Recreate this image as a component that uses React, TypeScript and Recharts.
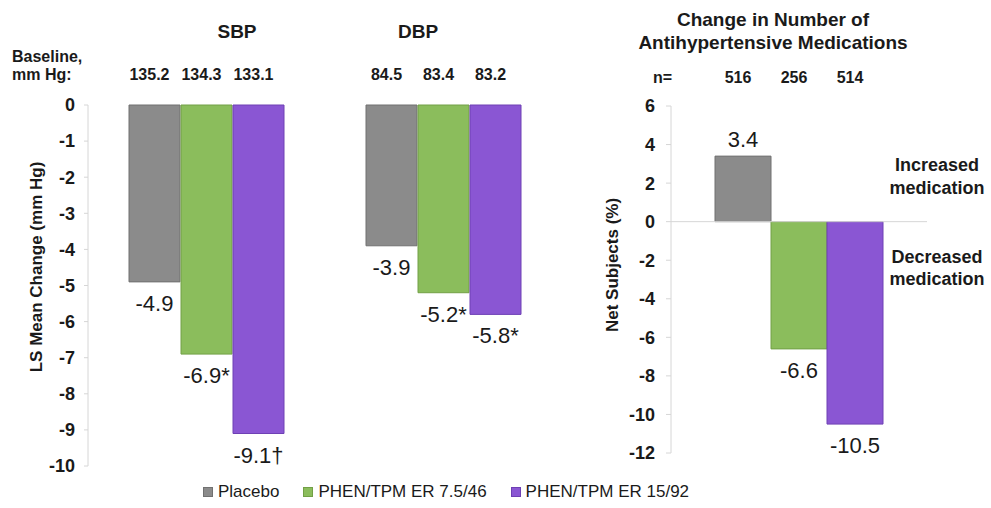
import { BarChart, Bar, XAxis, YAxis, LabelList, Legend, ReferenceLine } from "recharts";

const categories = ["SBP", "DBP"];
const placeboChange = [-4.9, -3.9];
const phen75Change = [-6.9, -5.2];
const phen15Change = [-9.1, -5.8];
const placeboMark = ["", ""];
const phen75Mark = ["*", "*"];
const phen15Mark = ["†", "*"];
const placeboBaseline = ["135.2", "84.5"];
const phen75Baseline = ["134.3", "83.4"];
const phen15Baseline = ["133.1", "83.2"];
const bpTicks = [0, -1, -2, -3, -4, -5, -6, -7, -8, -9, -10];

const medCategory = ["Antihypertensive"];
const medPlacebo = [3.4];
const medPhen75 = [-6.6];
const medPhen15 = [-10.5];
const medN = [["516"], ["256"], ["514"]];
const medTicks = [6, 4, 2, 0, -2, -4, -6, -8, -10, -12];

const seriesNames = ["Placebo", "PHEN/TPM ER 7.5/46", "PHEN/TPM ER 15/92"];
const seriesColors = ["#8b8b8b", "#8bbd5c", "#8a56d3"];
const seriesEdges = ["#717171", "#72a046", "#6e40b4"];

const FONT = "'Liberation Sans', Arial, sans-serif";
const INK = "#1a1a1a";
const AXIS = "#d6d6d6";

const bpData = categories.map((cat, i) => ({
  cat,
  placebo: placeboChange[i],
  p75: phen75Change[i],
  p15: phen15Change[i],
  placeboText: `${placeboChange[i]}${placeboMark[i]}`,
  p75Text: `${phen75Change[i]}${phen75Mark[i]}`,
  p15Text: `${phen15Change[i]}${phen15Mark[i]}`,
  placeboBase: placeboBaseline[i],
  p75Base: phen75Baseline[i],
  p15Base: phen15Baseline[i],
}));

const medData = medCategory.map((cat, i) => ({
  cat,
  placebo: medPlacebo[i],
  p75: medPhen75[i],
  p15: medPhen15[i],
  placeboText: `${medPlacebo[i]}`,
  p75Text: `${medPhen75[i]}`,
  p15Text: `${medPhen15[i]}`,
  placeboN: medN[0][i],
  p75N: medN[1][i],
  p15N: medN[2][i],
}));

// value under (or over) the end of each bar
const EndLabel = (props: any) => {
  const { x, y, width, height, value } = props;
  const neg = String(value).startsWith("-");
  const end = neg ? Math.max(y, y + height) : Math.min(y, y + height);
  return (
    <text
      x={x + width / 2}
      y={neg ? end + 29 : end - 9}
      textAnchor="middle"
      fontSize={22}
      fontFamily={FONT}
      fill={INK}
    >
      {value}
    </text>
  );
};

// row of numbers above the plot, aligned on each bar
const headerLabel = (rowY: number) => (props: any) => {
  const { x, width, value } = props;
  return (
    <text
      x={x + width / 2 - 5}
      y={rowY}
      textAnchor="middle"
      fontSize={16}
      fontWeight="bold"
      fontFamily={FONT}
      fill={INK}
    >
      {value}
    </text>
  );
};

// small mark at the right edge of each category band
const BoundaryTick = (props: any) => {
  const { x, y, payload } = props;
  const bx = x + (payload?.offset ?? 0);
  return <line x1={bx} x2={bx} y1={y} y2={y + 6} stroke={AXIS} />;
};

const renderLegend = (props: any) => {
  const items = [...(props.payload || [])].sort(
    (a: any, b: any) => seriesNames.indexOf(a.value) - seriesNames.indexOf(b.value)
  );
  return (
    <div style={{ display: "flex", alignItems: "center", fontSize: 17, fontFamily: FONT, color: INK }}>
      {items.map((p: any, i: number) => (
        <span key={p.value} style={{ display: "flex", alignItems: "center", marginRight: 24 }}>
          <span
            style={{
              width: 8,
              height: 8,
              background: p.color,
              border: `1px solid ${seriesEdges[seriesNames.indexOf(p.value)]}`,
              marginRight: 5,
            }}
          />
          <span>{p.value}</span>
        </span>
      ))}
    </div>
  );
};

const tickStyle = { fill: INK, fontSize: 18, fontWeight: "bold", fontFamily: FONT };
const keys = ["placebo", "p75", "p15"];

export default function App() {
  return (
    <div style={{ position: "absolute", left: 0, top: 0, width: 991, height: 508, background: "#fff", fontFamily: FONT }}>
      <div style={{ position: "absolute", left: 0, top: 0 }}>
        <BarChart
          width={600}
          height={508}
          data={bpData}
          margin={{ top: 105, right: 38, bottom: 42, left: 0 }}
          barSize={51}
          barGap={1}
        >
          <XAxis
            dataKey="cat"
            orientation="top"
            height={0}
            tickSize={0}
            tickLine={false}
            axisLine={{ stroke: AXIS }}
            tick={<BoundaryTick />}
            interval={0}
          />
          <YAxis
            domain={[-10, 0]}
            ticks={bpTicks}
            interval={0}
            width={88}
            tick={tickStyle}
            tickSize={4}
            tickMargin={9}
            tickLine={{ stroke: AXIS }}
            axisLine={{ stroke: AXIS }}
          />
          {keys.map((k, i) => (
            <Bar
              key={k}
              dataKey={k}
              name={seriesNames[i]}
              fill={seriesColors[i]}
              stroke={seriesEdges[i]}
              strokeWidth={1}
              isAnimationActive={false}
            >
              <LabelList dataKey={`${k}Text`} content={<EndLabel />} />
              <LabelList dataKey={`${k}Base`} content={headerLabel(80)} />
            </Bar>
          ))}
          <Legend
            verticalAlign="middle"
            align="center"
            layout="horizontal"
            content={renderLegend}
            wrapperStyle={{ left: 203, top: 482, width: 700 }}
          />
          <text x={237} y={38} textAnchor="middle" fontSize={19} fontWeight="bold" fontFamily={FONT} fill={INK}>
            SBP
          </text>
          <text x={418} y={38} textAnchor="middle" fontSize={19} fontWeight="bold" fontFamily={FONT} fill={INK}>
            DBP
          </text>
          <text x={12} y={62} fontSize={16} fontWeight="bold" fontFamily={FONT} fill={INK}>
            Baseline,
          </text>
          <text x={12} y={80} fontSize={16} fontWeight="bold" fontFamily={FONT} fill={INK}>
            mm Hg:
          </text>
          <text
            x={36}
            y={267}
            transform="rotate(-90 36 267)"
            textAnchor="middle"
            dominantBaseline="central"
            fontSize={17}
            fontWeight="bold"
            fontFamily={FONT}
            fill={INK}
          >
            LS Mean Change (mm Hg)
          </text>
        </BarChart>
      </div>

      <div style={{ position: "absolute", left: 560, top: 0 }}>
        <BarChart
          width={431}
          height={508}
          data={medData}
          margin={{ top: 106, right: 64, bottom: 55, left: 0 }}
          barSize={56}
          barGap={0}
        >
          <XAxis dataKey="cat" hide />
          <YAxis
            domain={[-12, 6]}
            ticks={medTicks}
            interval={0}
            width={111}
            tick={tickStyle}
            tickSize={5}
            tickMargin={11}
            tickLine={{ stroke: AXIS }}
            axisLine={{ stroke: AXIS }}
          />
          <ReferenceLine y={0} stroke={AXIS} />
          {keys.map((k, i) => (
            <Bar
              key={k}
              dataKey={k}
              name={seriesNames[i]}
              fill={seriesColors[i]}
              stroke={seriesEdges[i]}
              strokeWidth={1}
              isAnimationActive={false}
            >
              <LabelList dataKey={`${k}Text`} content={<EndLabel />} />
              <LabelList dataKey={`${k}N`} content={headerLabel(83)} />
            </Bar>
          ))}
          <text x={213} y={26} textAnchor="middle" fontSize={19} fontWeight="bold" fontFamily={FONT} fill={INK}>
            Change in Number of
          </text>
          <text x={213} y={49} textAnchor="middle" fontSize={19} fontWeight="bold" fontFamily={FONT} fill={INK}>
            Antihypertensive Medications
          </text>
          <text x={93} y={83} fontSize={16} fontWeight="bold" fontFamily={FONT} fill={INK}>
            n=
          </text>
          <text
            x={52}
            y={265}
            transform="rotate(-90 52 265)"
            textAnchor="middle"
            dominantBaseline="central"
            fontSize={17}
            fontWeight="bold"
            fontFamily={FONT}
            fill={INK}
          >
            Net Subjects (%)
          </text>
          <text x={377} y={171} textAnchor="middle" fontSize={18} fontWeight="bold" fontFamily={FONT} fill={INK}>
            Increased
          </text>
          <text x={377} y={194} textAnchor="middle" fontSize={18} fontWeight="bold" fontFamily={FONT} fill={INK}>
            medication
          </text>
          <text x={377} y={263} textAnchor="middle" fontSize={18} fontWeight="bold" fontFamily={FONT} fill={INK}>
            Decreased
          </text>
          <text x={377} y={285} textAnchor="middle" fontSize={18} fontWeight="bold" fontFamily={FONT} fill={INK}>
            medication
          </text>
        </BarChart>
      </div>
    </div>
  );
}
